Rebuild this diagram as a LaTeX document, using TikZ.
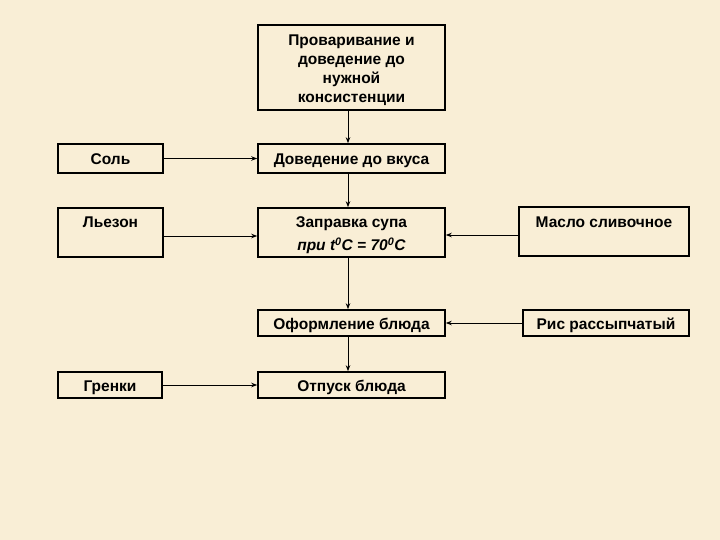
\documentclass[tikz,border=0pt]{standalone}
\usepackage{fontspec}
\setmainfont{Liberation Sans}
\usetikzlibrary{arrows.meta}
\definecolor{bg}{RGB}{249,238,214}
\tikzset{
  fnt/.style={font=\bfseries\fontsize{15.5}{19}\selectfont, inner sep=0pt},
  txt/.style={fnt, align=center},
  box/.style={fnt, draw=black, line width=1.6pt, rectangle, text height=13pt, text depth=0pt},
  conn/.style={draw=black, line width=0.9pt, -{Stealth[length=6pt,width=4.5pt]}},
}
\begin{document}
\begin{tikzpicture}[x=1pt,y=-1pt]
\fill[bg] (0,0) rectangle (720,540);
\useasboundingbox (0,0) rectangle (720,540);
\node[box, minimum width=187pt, minimum height=85pt] (top) at (351.5,67.5) {};
\node[txt] (topt) at (351.5,70) {Проваривание и\\доведение до\\нужной\\консистенции};
\node[box, minimum width=105pt, minimum height=29pt] (sol) at (110.5,158.5) {Соль};
\node[box, minimum width=187pt, minimum height=29pt] (dov) at (351.5,158.5) {Доведение до вкуса};
\node[box, minimum width=105pt, minimum height=49pt] (lez) at (110.5,232.5) {};
\node[fnt] (lezt) at (110.5,222) {Льезон};
\node[box, minimum width=187pt, minimum height=49pt] (zap) at (351.5,232.5) {};
\node[txt] (zapt) at (351.5,235) {Заправка супа\\[4pt]\textit{при t\textsuperscript{0}C = 70\textsuperscript{0}C}};
\node[box, minimum width=170pt, minimum height=49pt] (mas) at (604,231.5) {};
\node[fnt] (mast) at (604,222) {Масло сливочное};
\node[box, minimum width=187pt, minimum height=26pt] (ofo) at (351.5,323) {Оформление блюда};
\node[box, minimum width=166pt, minimum height=26pt] (ris) at (606,323) {Рис рассыпчатый};
\node[box, minimum width=104pt, minimum height=26pt] (gren) at (110,385) {Гренки};
\node[box, minimum width=187pt, minimum height=26pt] (otp) at (351.5,385) {Отпуск блюда};
% connectors
\draw[conn] ([xshift=-3.5pt]top.south) -- ([xshift=-3.5pt]dov.north);
\draw[conn] ([xshift=-3.5pt]dov.south) -- ([xshift=-3.5pt]zap.north);
\draw[conn] ([xshift=-3.5pt]zap.south) -- ([xshift=-3.5pt]ofo.north);
\draw[conn] ([xshift=-3.5pt]ofo.south) -- ([xshift=-3.5pt]otp.north);
\draw[conn] (sol.east) -- (dov.west);
\draw[conn] ([yshift=-3.5pt]lez.east) -- ([yshift=-3.5pt]zap.west);
\draw[conn] ([yshift=-3.5pt]mas.west) -- ([yshift=-2.5pt]zap.east);
\draw[conn] (ris.west) -- (ofo.east);
\draw[conn] (gren.east) -- (otp.west);
\end{tikzpicture}
\end{document}
